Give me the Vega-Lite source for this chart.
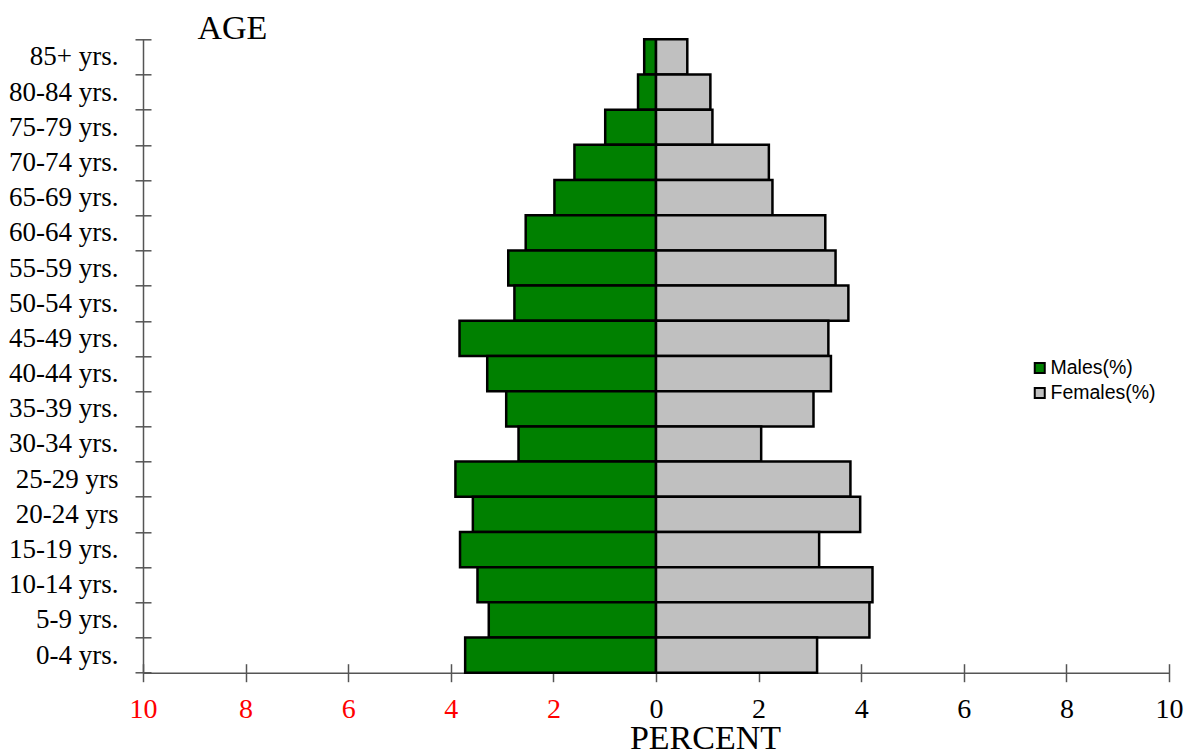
{
  "$schema": "https://vega.github.io/schema/vega-lite/v6.json",
  "width": 1026,
  "height": 633.4,
  "autosize": {"type": "none"},
  "padding": {"left": 143, "top": 39.3, "right": 22, "bottom": 82.3},
  "background": "white",
  "config": {"view": {"stroke": null}},
  "data": {
    "values": [
      {"age": "85+ yrs.", "sex": "Males(%)", "value": -0.23},
      {"age": "85+ yrs.", "sex": "Females(%)", "value": 0.61},
      {"age": "80-84 yrs.", "sex": "Males(%)", "value": -0.35},
      {"age": "80-84 yrs.", "sex": "Females(%)", "value": 1.06},
      {"age": "75-79 yrs.", "sex": "Males(%)", "value": -0.99},
      {"age": "75-79 yrs.", "sex": "Females(%)", "value": 1.10},
      {"age": "70-74 yrs.", "sex": "Males(%)", "value": -1.59},
      {"age": "70-74 yrs.", "sex": "Females(%)", "value": 2.20},
      {"age": "65-69 yrs.", "sex": "Males(%)", "value": -1.98},
      {"age": "65-69 yrs.", "sex": "Females(%)", "value": 2.27},
      {"age": "60-64 yrs.", "sex": "Males(%)", "value": -2.54},
      {"age": "60-64 yrs.", "sex": "Females(%)", "value": 3.30},
      {"age": "55-59 yrs.", "sex": "Males(%)", "value": -2.88},
      {"age": "55-59 yrs.", "sex": "Females(%)", "value": 3.50},
      {"age": "50-54 yrs.", "sex": "Males(%)", "value": -2.76},
      {"age": "50-54 yrs.", "sex": "Females(%)", "value": 3.75},
      {"age": "45-49 yrs.", "sex": "Males(%)", "value": -3.83},
      {"age": "45-49 yrs.", "sex": "Females(%)", "value": 3.36},
      {"age": "40-44 yrs.", "sex": "Males(%)", "value": -3.29},
      {"age": "40-44 yrs.", "sex": "Females(%)", "value": 3.41},
      {"age": "35-39 yrs.", "sex": "Males(%)", "value": -2.92},
      {"age": "35-39 yrs.", "sex": "Females(%)", "value": 3.07},
      {"age": "30-34 yrs.", "sex": "Males(%)", "value": -2.68},
      {"age": "30-34 yrs.", "sex": "Females(%)", "value": 2.05},
      {"age": "25-29 yrs", "sex": "Males(%)", "value": -3.91},
      {"age": "25-29 yrs", "sex": "Females(%)", "value": 3.79},
      {"age": "20-24 yrs", "sex": "Males(%)", "value": -3.57},
      {"age": "20-24 yrs", "sex": "Females(%)", "value": 3.98},
      {"age": "15-19 yrs.", "sex": "Males(%)", "value": -3.82},
      {"age": "15-19 yrs.", "sex": "Females(%)", "value": 3.18},
      {"age": "10-14 yrs.", "sex": "Males(%)", "value": -3.48},
      {"age": "10-14 yrs.", "sex": "Females(%)", "value": 4.22},
      {"age": "5-9 yrs.", "sex": "Males(%)", "value": -3.26},
      {"age": "5-9 yrs.", "sex": "Females(%)", "value": 4.16},
      {"age": "0-4 yrs.", "sex": "Males(%)", "value": -3.72},
      {"age": "0-4 yrs.", "sex": "Females(%)", "value": 3.14}
    ]
  },
  "mark": {"type": "bar", "stroke": "black", "strokeWidth": 2.5},
  "encoding": {
    "y": {
      "field": "age",
      "type": "nominal",
      "sort": ["85+ yrs.", "80-84 yrs.", "75-79 yrs.", "70-74 yrs.", "65-69 yrs.", "60-64 yrs.", "55-59 yrs.", "50-54 yrs.", "45-49 yrs.", "40-44 yrs.", "35-39 yrs.", "30-34 yrs.", "25-29 yrs", "20-24 yrs", "15-19 yrs.", "10-14 yrs.", "5-9 yrs.", "0-4 yrs."],
      "scale": {"paddingInner": 0, "paddingOuter": 0},
      "axis": {
        "title": "AGE",
        "titleAngle": 0,
        "titleAlign": "left",
        "titleBaseline": "alphabetic",
        "titleX": 54,
        "titleY": -1,
        "titleFont": "Liberation Serif",
        "titleFontSize": 34,
        "titleFontWeight": "normal",
        "titleColor": "black",
        "labelFont": "Liberation Serif",
        "labelFontSize": 27,
        "labelColor": "black",
        "labelPadding": 16,
        "tickSize": 9,
        "tickBand": "extent",
        "tickColor": "#555555",
        "tickWidth": 1.5,
        "domainColor": "#555555",
        "domainWidth": 1.5,
        "encoding": {"ticks": {"x": {"value": 8}, "x2": {"value": -8}}}
      }
    },
    "x": {
      "field": "value",
      "type": "quantitative",
      "stack": null,
      "scale": {"domain": [-10, 10], "nice": false},
      "axis": {
        "title": "PERCENT",
        "titleX": 562,
        "titleY": 76,
        "titleBaseline": "alphabetic",
        "titleFont": "Liberation Serif",
        "titleFontSize": 34,
        "titleFontWeight": "normal",
        "titleColor": "black",
        "values": [-10, -8, -6, -4, -2, 0, 2, 4, 6, 8, 10],
        "labelExpr": "abs(datum.value)",
        "labelColor": {"condition": {"test": "datum.value < 0", "value": "red"}, "value": "black"},
        "labelFont": "Liberation Serif",
        "labelFontSize": 28,
        "labelPadding": 14,
        "labelFlush": false,
        "labelOverlap": false,
        "tickSize": 9,
        "tickColor": "#555555",
        "tickWidth": 1.5,
        "domainColor": "#555555",
        "domainWidth": 1.5,
        "grid": false,
        "encoding": {"ticks": {"y": {"value": -9}, "y2": {"value": 9}}}
      }
    },
    "color": {
      "field": "sex",
      "type": "nominal",
      "scale": {"domain": ["Males(%)", "Females(%)"], "range": ["#008000", "#c0c0c0"]},
      "legend": {
        "title": null,
        "orient": "none",
        "legendX": 887,
        "legendY": 319,
        "padding": 0,
        "symbolType": "square",
        "symbolSize": 100,
        "symbolStrokeColor": "black",
        "symbolStrokeWidth": 2,
        "labelFont": "Liberation Sans",
        "labelFontSize": 19.5,
        "labelColor": "black",
        "labelOffset": 1,
        "rowPadding": 4
      }
    }
  }
}
